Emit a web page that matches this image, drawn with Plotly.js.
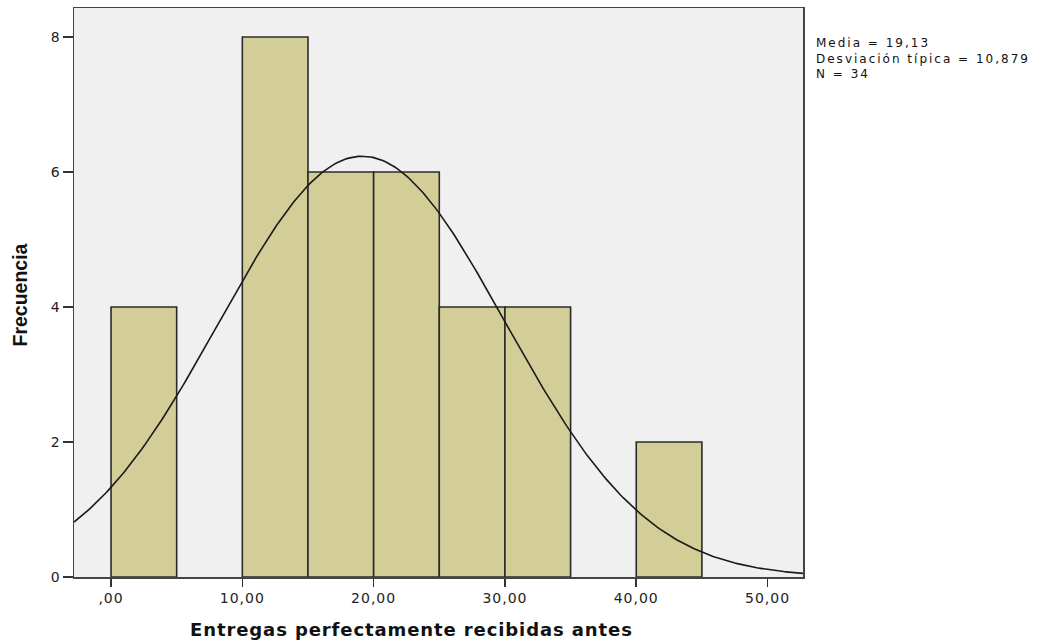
<!DOCTYPE html>
<html>
<head>
<meta charset="utf-8">
<script src="https://cdn.plot.ly/plotly-3.0.1.min.js"></script>
<style>html,body{margin:0;padding:0;background:#fff;}#chart{width:1043px;height:644px;}</style>
</head>
<body>
<div id="chart"></div>
<script>
// Histogram bins (width 5) and their frequencies
const binStarts = [0, 5, 10, 15, 20, 25, 30, 35, 40];
const binCounts = [4, 0, 8, 6, 6, 4, 4, 0, 2];
const binWidth = 5;

// Summary statistics shown in the side legend
const meanValue = 19.13;
const stdDev = 10.879;
const nObs = 34;

// Axis ticks
const xTickVals = [0, 10, 20, 30, 40, 50];
const xTickText = [',00', '10,00', '20,00', '30,00', '40,00', '50,00'];
const yTickVals = [0, 2, 4, 6, 8];
const yTickText = ['0', '2', '4', '6', '8'];

const xTitle = 'Entregas perfectamente recibidas antes';
const yTitle = 'Frecuencia';

const xRange = [-2.82, 52.7];
const yRange = [0, 8.43];

// Bars (empty bins are skipped)
const barX = [], barY = [];
binStarts.forEach((s, i) => {
  if (binCounts[i] > 0) { barX.push(s + binWidth / 2); barY.push(binCounts[i]); }
});

// Fitted normal curve scaled to frequency (N * bin width * density)
const curveX = [], curveY = [];
const steps = 300;
for (let k = 0; k <= steps; k++) {
  const x = xRange[0] + (xRange[1] - xRange[0]) * k / steps;
  const z = (x - meanValue) / stdDev;
  curveX.push(x);
  curveY.push(nObs * binWidth * Math.exp(-0.5 * z * z) / (stdDev * Math.sqrt(2 * Math.PI)));
}

const fmt = (v, d) => v.toFixed(d).replace('.', ',');
const spaced = (t, px) => '<span style="letter-spacing:' + px + 'px">' + t + '</span>';

// Plot frame geometry (pixels) used to place the free-standing labels
const W = 1043, H = 644, M = { l: 74, r: 240, t: 8, b: 67 };
const plotW = W - M.l - M.r, plotH = H - M.t - M.b;
const px2x = px => (px - M.l) / plotW;
const py2y = py => (H - M.b - py) / plotH;

const traces = [
  {
    type: 'bar', x: barX, y: barY, width: binWidth,
    marker: { color: '#d3cd98', line: { color: '#2b2b2b', width: 1.6 } },
    hoverinfo: 'x+y', showlegend: false
  },
  {
    type: 'scatter', mode: 'lines', x: curveX, y: curveY,
    line: { color: '#1a1a1a', width: 1.6 }, hoverinfo: 'skip', showlegend: false
  }
];

// Statistics block beside the plot
const statLines = [
  'Media = ' + fmt(meanValue, 2),
  'Desviación típica = ' + fmt(stdDev, 3),
  'N = ' + nObs
];
const statAnnotation = {
  xref: 'paper', yref: 'paper', x: px2x(815), y: py2y(58),
  xanchor: 'left', yanchor: 'middle', align: 'left', showarrow: false, borderpad: 0,
  text: statLines.map(t => spaced(t, 2.0)).join('<br>'),
  font: { family: 'DejaVu Sans, Verdana, sans-serif', size: 12, color: '#111' }
};

const tickFont = { family: 'DejaVu Sans, Verdana, sans-serif', size: 14, color: '#222' };

const layout = {
  width: W, height: H,
  margin: M,
  paper_bgcolor: '#ffffff',
  plot_bgcolor: '#f0f0f0',
  bargap: 0,
  font: { family: 'Liberation Sans, Arial, sans-serif', size: 13, color: '#222' },
  xaxis: {
    range: xRange, tickvals: xTickVals, ticktext: xTickText.map(t => spaced(t, 1.0)),
    ticks: 'outside', ticklen: 8, tickwidth: 1.5, tickcolor: '#333',
    showgrid: false, zeroline: false,
    showline: true, linecolor: '#444', linewidth: 1.5, mirror: true,
    tickfont: tickFont
  },
  yaxis: {
    range: yRange, tickvals: yTickVals, ticktext: yTickText,
    ticks: 'outside', ticklen: 10, tickwidth: 1.5, tickcolor: '#333',
    showgrid: false, zeroline: false,
    showline: true, linecolor: '#444', linewidth: 1.5, mirror: true,
    tickfont: tickFont
  },
  annotations: [
    {
      xref: 'paper', yref: 'paper', x: px2x(411.5), y: py2y(629),
      xanchor: 'center', yanchor: 'middle', showarrow: false,
      text: spaced(xTitle, 0.9),
      font: { family: 'DejaVu Sans, Verdana, sans-serif', size: 18, color: '#111', weight: 'bold' }
    },
    {
      xref: 'paper', yref: 'paper', x: px2x(19.5), y: py2y(295),
      xanchor: 'center', yanchor: 'middle', showarrow: false, textangle: -90,
      text: yTitle,
      font: { family: 'Liberation Sans, Arial, sans-serif', size: 19.5, color: '#111', weight: 'bold' }
    },
    statAnnotation
  ]
};

Plotly.newPlot('chart', traces, layout, { displayModeBar: false, staticPlot: true });
</script>
</body>
</html>
